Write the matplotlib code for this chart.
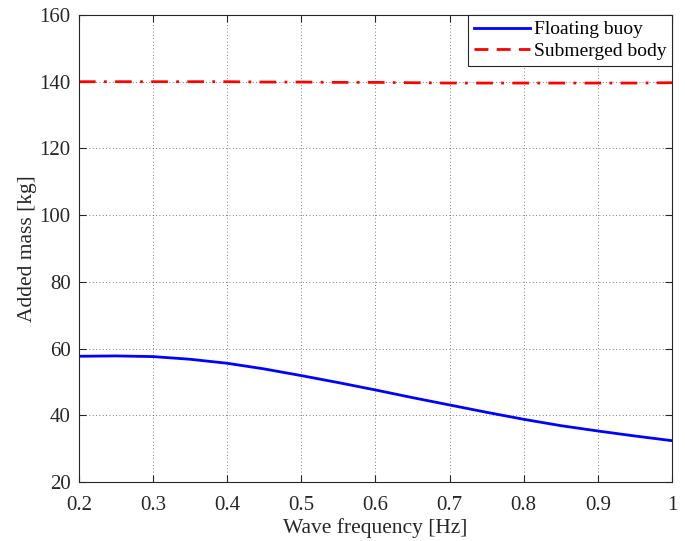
import matplotlib.pyplot as plt
from matplotlib.lines import Line2D

# Данные
freq = [0.20, 0.25, 0.30, 0.35, 0.40, 0.45, 0.50, 0.55, 0.60, 0.65,
        0.70, 0.75, 0.80, 0.85, 0.90, 0.95, 1.00]
buoy_mass = [57.7, 57.8, 57.6, 56.8, 55.6, 53.9, 51.9, 49.8, 47.6, 45.3,
             43.1, 40.9, 38.8, 36.9, 35.3, 33.8, 32.4]
body_mass = [140.0, 140.0, 140.0, 140.0, 140.0, 139.9, 139.9, 139.8, 139.8, 139.7,
             139.6, 139.6, 139.6, 139.6, 139.6, 139.6, 139.7]

plt.rcParams['font.family'] = ['Liberation Serif', 'DejaVu Serif']

fig = plt.figure(figsize=(6.85, 5.41), dpi=100)
ax = fig.add_axes([0.1153, 0.109, 0.8657, 0.8633])

ax.plot(freq, buoy_mass, color='blue', linewidth=2)
ax.plot(freq, body_mass, color='red', linewidth=2, linestyle=(0, (6, 3, 1, 3)))

ax.set_xlim(0.2, 1.0)
ax.set_ylim(20, 160)
ax.set_xticks([0.2, 0.3, 0.4, 0.5, 0.6, 0.7, 0.8, 0.9, 1.0])
ax.set_xticklabels(['0.2', '0.3', '0.4', '0.5', '0.6', '0.7', '0.8', '0.9', '1'])
ax.set_yticks(range(20, 161, 20))

ax.tick_params(direction='in', top=True, right=True, labelsize=15,
               length=5, width=0.8, colors='#262626', labelcolor='#262626')
ax.tick_params(axis='x', pad=10)
ax.tick_params(axis='y', pad=6)
for s in ax.spines.values():
    s.set_linewidth(0.8)
    s.set_color('#262626')

ax.grid(True, linestyle=(0, (1, 3)), color='#262626', linewidth=0.6, alpha=0.8)

ax.set_xlabel('Wave frequency [Hz]', fontsize=15.5, color='#262626', labelpad=2)
ax.set_ylabel('Added mass [kg]', fontsize=15.5, color='#262626', labelpad=2)

handles = [Line2D([], [], color='blue', linewidth=2),
           Line2D([], [], color='red', linewidth=2, linestyle=(0, (5, 3)))]
leg = ax.legend(handles, ['Floating buoy', 'Submerged body'], loc='upper right',
                fontsize=14, fancybox=False, framealpha=1, edgecolor='#262626',
                borderaxespad=0, handlelength=2.85, handletextpad=0.2,
                borderpad=0.3, labelspacing=0.2)
leg.get_frame().set_linewidth(0.8)

plt.savefig('out.png', dpi=100)
